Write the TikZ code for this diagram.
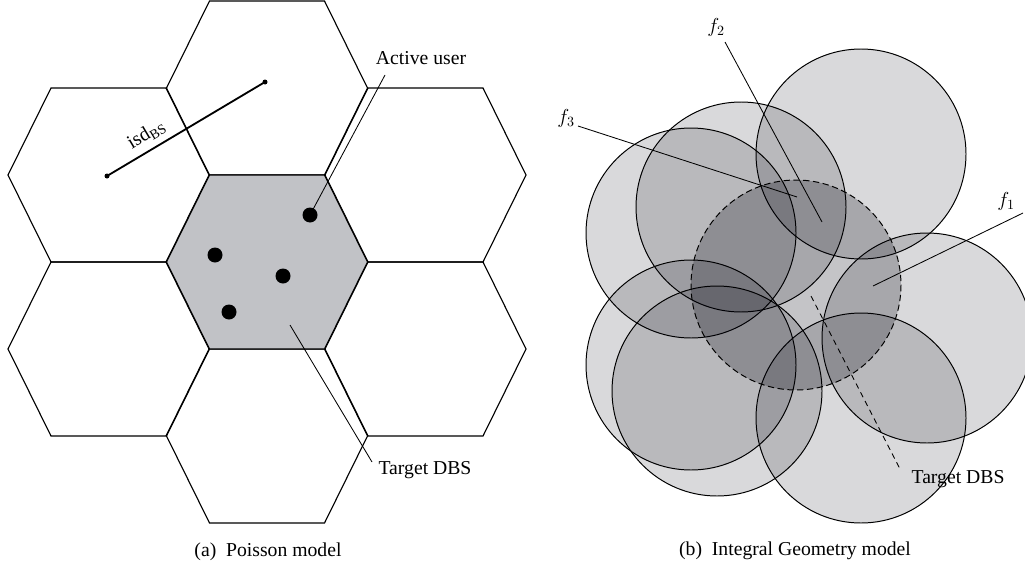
\documentclass[tikz,border=0pt]{standalone}
\usepackage{fontspec}
\setmainfont{Liberation Serif}
\usetikzlibrary{arrows.meta}
\tikzset{>=Stealth}
\definecolor{hexgray}{RGB}{193,194,198}
\definecolor{discgray}{RGB}{0,0,12}
\tikzset{hexcell/.style={line width=.8pt,line join=miter},
  disc/.style={line width=.7pt,fill=discgray,fill opacity=.15},
  leader/.style={line width=.6pt}}

\begin{document}
\begin{tikzpicture}[x=0.025cm,y=-0.025cm,font=\fontsize{14}{16}\selectfont]
\useasboundingbox (0,0) rectangle (1025,572);
\foreach \cx/\cy in {267/88,108.5/175,425.5/175,108.5/349,425.5/349,267/436}
  \draw[hexcell,shift={(\cx,\cy)}] (-100.5,0) -- (-57.5,-87) -- (57.5,-87) -- (100.5,0) -- (57.5,87) -- (-57.5,87) -- cycle;
\filldraw[hexcell,fill=hexgray,shift={(267,262)}] (-100.5,0) -- (-57.5,-87) -- (57.5,-87) -- (100.5,0) -- (57.5,87) -- (-57.5,87) -- cycle;
\coordinate (BS1) at (107,176);
\coordinate (BS2) at (265,82);
\draw[line width=1.3pt] (BS1) -- node[pos=.3,sloped,above,yshift=1pt] {isd\textsubscript{BS}} (BS2);
\fill (BS1) circle (2.5) (BS2) circle (2.5);
\coordinate (U1) at (310,215);
\coordinate (U2) at (215,255);
\coordinate (U3) at (283,276);
\coordinate (U4) at (229,312);
\foreach \u in {U1,U2,U3,U4}
  \fill (\u) circle (7.5);
\node (A1) at (421,58) {Active user};
\coordinate (A1end) at (385,75);
\draw[leader] (U1) -- (A1end);
\coordinate (T1) at (290,325);
\node (T1lab) at (425,470) {Target DBS};
\coordinate (T1end) at (372,462);
\draw[leader] (T1) -- (T1end);
\node (capA) at (268,552) {(a)~~Poisson model};
\foreach \cx/\cy in {861/154,741/207,691/233,927/338,861/418,691/365,717/391}
  \filldraw[disc] (\cx,\cy) circle (105);
\filldraw[disc,fill opacity=.23,dash pattern=on 4.5pt off 2.5pt] (796,285) circle (105);
\coordinate (F1) at (873,286);
\coordinate (F2) at (822,222);
\coordinate (F3) at (797,197);
\node (F1lab) at (1006,201) {$f_1$};
\node (F2lab) at (716,27) {$f_2$};
\node (F3lab) at (566,118) {$f_3$};
\coordinate (F1end) at (1023,213);
\coordinate (F2end) at (725,42);
\coordinate (F3end) at (578,126);
\draw[leader] (F1) -- (F1end);
\draw[leader] (F2) -- (F2end);
\draw[leader] (F3) -- (F3end);
\coordinate (T2) at (811,296);
\coordinate (T2end) at (900,469);
\draw[leader,dash pattern=on 4pt off 3pt] (T2) -- (T2end);
\node (T2lab) at (958,479) {Target DBS};
\node (capB) at (795,551) {(b)~~Integral Geometry model};
\end{tikzpicture}
\end{document}
